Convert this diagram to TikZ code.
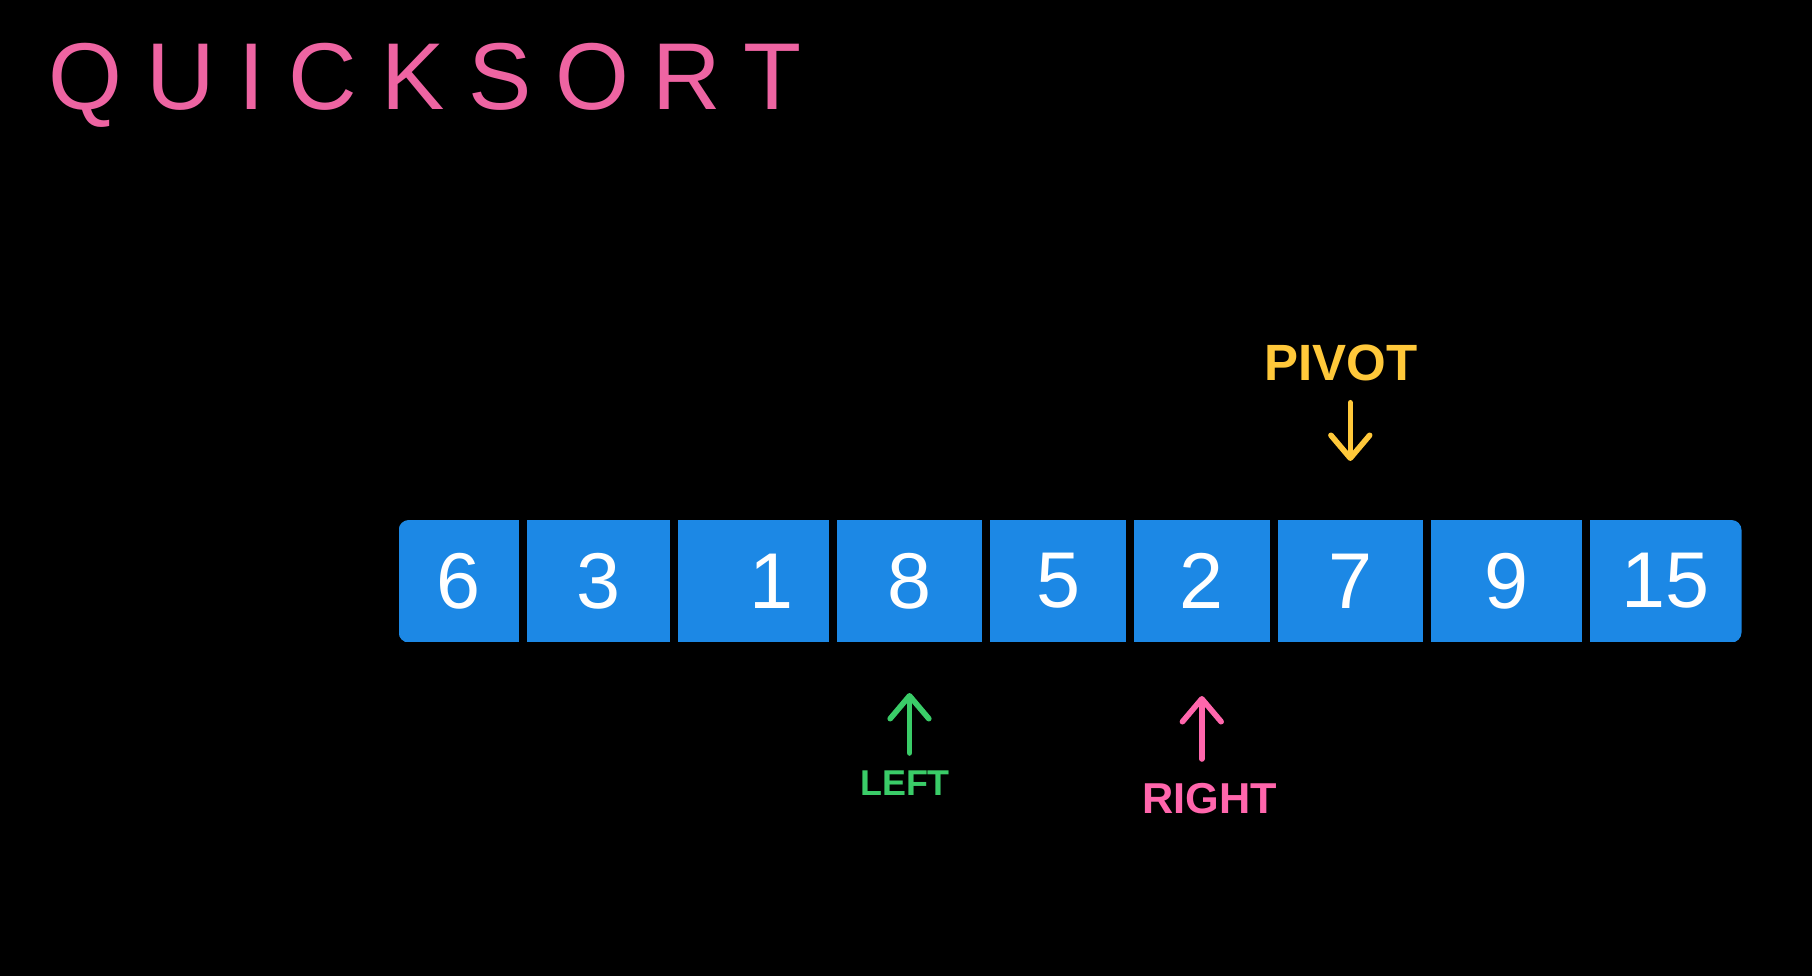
\documentclass[tikz,border=0pt]{standalone}
\usepackage{fontspec}
\setmainfont{Liberation Sans}
\usepackage{xcolor}
\usepackage{tikz}
\usetikzlibrary{arrows.meta}
\usetikzlibrary{positioning}

\definecolor{cellblue}{RGB}{28,136,229}
\definecolor{titlepink}{RGB}{238,100,162}
\definecolor{rightpink}{RGB}{255,102,172}
\definecolor{leftgreen}{RGB}{58,204,104}
\definecolor{pivotyellow}{RGB}{255,200,58}

\tikzset{
    cell/.style={fill=cellblue, draw=none, minimum height=1.225cm, inner sep=0pt,
        text=white, font=\fontsize{22.5}{27}\selectfont},
    marker/.style={inner sep=0pt, font=\bfseries},
    pointer/.style={line width=1.6pt, line cap=round,
        -{Straight Barb[length=6.5pt, width=11pt, round]}}
}

\begin{document}
\begin{tikzpicture}[x=0.01cm, y=-0.01cm]
            \fill[black] (0,0) rectangle (1812,976);
            \useasboundingbox (0,0) rectangle (1812,976);
            \node[anchor=base west, text=titlepink, inner sep=0pt,
                font=\fontsize{27}{32}\selectfont\addfontfeature{LetterSpace=25}]
                (title) at (48,110) {QUICKSORT};
            \begin{scope}
                \clip[rounded corners=0.1cm] (398.7,520) rectangle (1741.5,642.5);
                \node[cell, minimum width=1.202cm] (b1) at (458.8,581) {6};
                \node[cell, minimum width=1.432cm] (b2) at (598.6,581) {3};
                \node[cell, minimum width=1.503cm] (b3) at (753.5,581) {\hspace{0.36cm}1};
                \node[cell, minimum width=1.456cm] (b4) at (909.5,581) {8};
                \node[cell, minimum width=1.352cm] (b5) at (1058,581) {5};
                \node[cell, minimum width=1.364cm] (b6) at (1201.8,581) {2};
                \node[cell, minimum width=1.445cm] (b7) at (1350.3,581) {7};
                \node[cell, minimum width=1.514cm] (b8) at (1506.3,581) {9};
                \node[cell, minimum width=1.515cm] (b9) at (1665.8,581) {15};
            \end{scope}
            \node[marker, text=pivotyellow, font=\fontsize{14.5}{17}\selectfont\bfseries]
                (pivot) at (1341,363) {PIVOT};
            \node[marker, text=leftgreen, font=\fontsize{10.2}{12}\selectfont\bfseries]
                (leftlbl) at (905,783) {LEFT};
            \node[marker, text=rightpink, font=\fontsize{12.3}{15}\selectfont\bfseries]
                (rightlbl) at (1210,799) {RIGHT};
            \draw[pointer, pivotyellow, shorten <=0.21cm, shorten >=0.58cm]
                (b7.north |- pivot.south) -- (b7.north);
            \draw[pointer, leftgreen, shorten <=0.17cm, shorten >=0.5cm]
                (b4.south |- leftlbl.north) -- (b4.south);
            \draw[pointer, rightpink, shorten <=0.24cm, shorten >=0.53cm]
                (b6.south |- rightlbl.north) -- (b6.south);
        \end{tikzpicture}
\end{document}
